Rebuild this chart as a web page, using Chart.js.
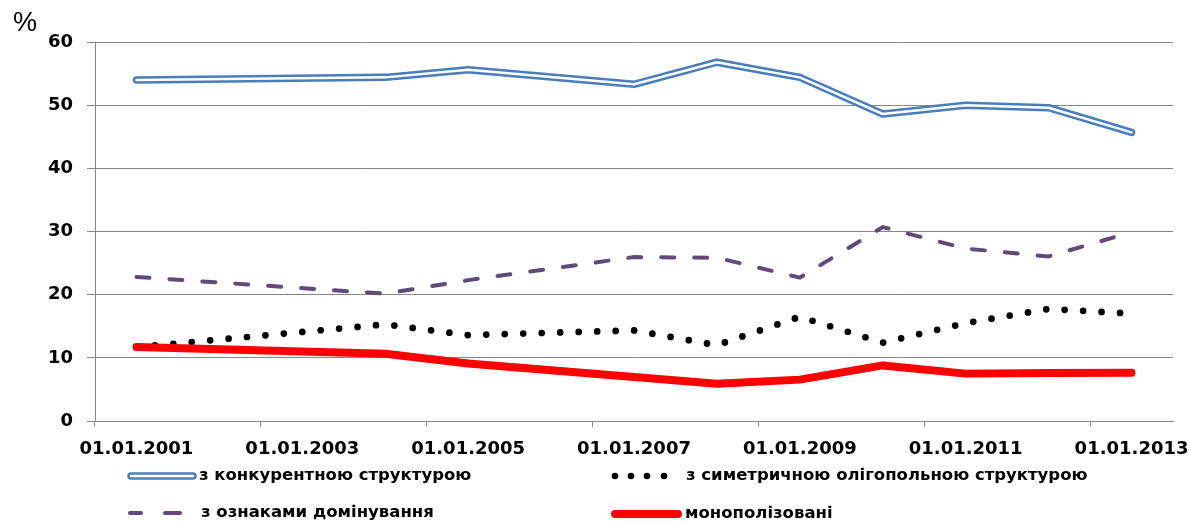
<!DOCTYPE html>
<html>
<head>
<meta charset="utf-8">
<script src="https://cdn.jsdelivr.net/npm/chart.js"></script>
<style>
  body { margin: 0; background: #fff; }
  #wrap { position: relative; width: 1190px; height: 522px; }
</style>
</head>
<body>
<div id="wrap"><canvas id="marketCanvas"></canvas></div>
<script>
// years on the axis, one slot per year
const years = [2001, 2002, 2003, 2004, 2005, 2006, 2007, 2008, 2009, 2010, 2011, 2012, 2013];
const dateLabels = years.map(y => '01.01.' + y);

// shares of markets, %
const competitive = [54.0, null, null, 54.4, 55.6, null, 53.3, 56.8, 54.4, 48.6, 50.0, 49.6, 45.7];
const oligopoly   = [11.7, null, null, 15.3, 13.6, null, 14.35, 12.0, 16.5, 12.4, 15.5, 17.75, 17.0];
const dominance   = [22.8, null, null, 20.15, 22.3, null, 25.95, 25.85, 22.7, 30.7, 27.3, 26.05, 29.9];
const monopolized = [11.7, null, null, 10.65, 9.1, null, 6.95, 5.9, 6.55, 8.8, 7.5, 7.6, 7.65];

const seriesNames = ['з конкурентною структурою', 'з симетричною олігопольною структурою',
                     'з ознаками домінування', 'монополізовані'];

const blue = '#4a7ebb';
const purple = '#604a7b';
const gridGray = '#868686';

Chart.defaults.font.family = 'DejaVu Sans';
Chart.defaults.color = '#000';

function wideText(ctx, text, x, y) {
  ctx.save();
  ctx.translate(x, y);
  ctx.scale(1.1, 1);
  ctx.fillText(text, 0, 0);
  ctx.restore();
}

// legend in two columns under the axis, plus the "%" caption
const legendPlugin = {
  id: 'customLegend',
  afterDraw(chart) {
    const ctx = chart.ctx;
    ctx.save();
    ctx.lineCap = 'round';

    // blue double line
    ctx.strokeStyle = blue; ctx.lineWidth = 7.5;
    ctx.beginPath(); ctx.moveTo(131, 476); ctx.lineTo(193, 476); ctx.stroke();
    ctx.strokeStyle = '#fff'; ctx.lineWidth = 2.5;
    ctx.beginPath(); ctx.moveTo(131, 476); ctx.lineTo(193, 476); ctx.stroke();

    // dots
    ctx.fillStyle = '#000';
    [615, 631, 647, 664].forEach(x => {
      ctx.beginPath(); ctx.arc(x, 476, 3.3, 0, Math.PI * 2); ctx.fill();
    });

    // dashes
    ctx.strokeStyle = purple; ctx.lineWidth = 4;
    ctx.beginPath(); ctx.moveTo(130, 513); ctx.lineTo(141, 513);
    ctx.moveTo(165, 513); ctx.lineTo(180, 513); ctx.stroke();

    // red
    ctx.strokeStyle = '#ff0000'; ctx.lineWidth = 8;
    ctx.beginPath(); ctx.moveTo(615, 514); ctx.lineTo(678, 514); ctx.stroke();

    ctx.fillStyle = '#000';
    ctx.font = 'bold 15px "DejaVu Sans"';
    ctx.textBaseline = 'middle';
    ctx.textAlign = 'left';
    wideText(ctx, seriesNames[0], 199, 476);
    wideText(ctx, seriesNames[1], 686, 476);
    wideText(ctx, seriesNames[2], 201, 513);
    wideText(ctx, seriesNames[3], 685, 514);

    ctx.font = '27px "Liberation Sans"';
    ctx.textAlign = 'center';
    ctx.fillText('%', 25, 24);
    ctx.restore();
  }
};

const ctx = document.getElementById('marketCanvas');
new Chart(ctx, {
  type: 'line',
  data: {
    labels: dateLabels,
    datasets: [
      { label: seriesNames[0] + ' (inner)', data: competitive, borderColor: '#fff', borderWidth: 2.5,
        borderCapStyle: 'round', borderJoinStyle: 'round', order: 1 },
      { label: seriesNames[0], data: competitive, borderColor: blue, borderWidth: 7.5,
        borderCapStyle: 'round', borderJoinStyle: 'round', order: 2 },
      { label: seriesNames[1], data: oligopoly, borderColor: '#000', borderWidth: 6.7,
        borderDash: [0, 18.5], borderCapStyle: 'round', order: 3 },
      { label: seriesNames[2], data: dominance, borderColor: purple, borderWidth: 4,
        borderDash: [13, 20], borderCapStyle: 'round', order: 4 },
      { label: seriesNames[3], data: monopolized, borderColor: '#ff0000', borderWidth: 8,
        borderCapStyle: 'round', borderJoinStyle: 'round', order: 0 }
    ]
  },
  options: {
    responsive: true,
    maintainAspectRatio: false,
    animation: false,
    spanGaps: true,
    elements: { point: { radius: 0 }, line: { tension: 0 } },
    layout: { padding: { left: 0, right: 17, top: 42, bottom: 0 } },
    plugins: { legend: { display: false }, tooltip: { enabled: false } },
    scales: {
      x: {
        type: 'category',
        offset: true,
        afterFit: s => { s.height = 101; s.paddingLeft = 0; s.paddingRight = 0; },
        border: { display: true, color: gridGray, width: 1 },
        grid: {
          offset: true,
          drawOnChartArea: false,
          drawTicks: true,
          tickLength: 6,
          color: c => (c.index % 2 === 0 ? gridGray : 'rgba(0,0,0,0)')
        },
        ticks: {
          autoSkip: false,
          maxRotation: 0,
          padding: 12,
          font: { size: 18, weight: 'bold' },
          callback: (v, i) => (i % 2 === 0 ? dateLabels[i] : '')
        }
      },
      y: {
        min: 0,
        max: 60,
        afterFit: s => { s.width = 95; s.paddingTop = 0; s.paddingBottom = 0; },
        border: { display: true, color: gridGray, width: 1 },
        grid: { color: gridGray, lineWidth: 1, tickLength: 8 },
        ticks: { stepSize: 10, padding: 14, font: { size: 18, weight: 'bold' } }
      }
    }
  },
  plugins: [legendPlugin]
});
</script>
</body>
</html>
